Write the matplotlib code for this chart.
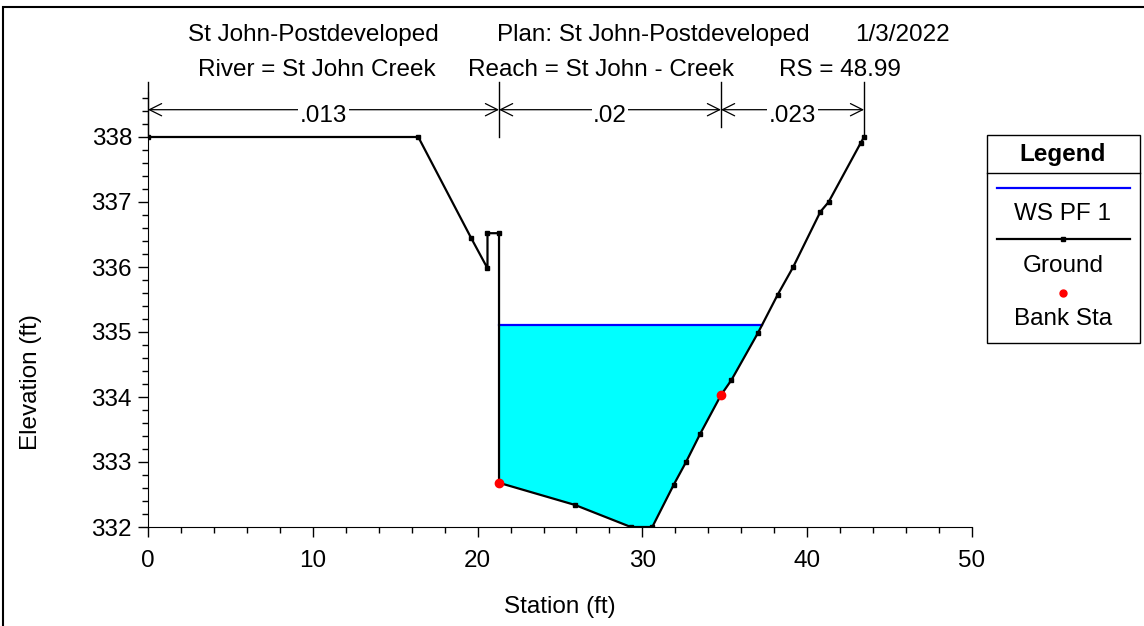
import numpy as np
import matplotlib.pyplot as plt
from matplotlib.ticker import MultipleLocator
from matplotlib.lines import Line2D
from matplotlib.patches import Rectangle

plt.rcParams['font.family'] = ['Liberation Sans', 'DejaVu Sans']

# cross section ground points
station = [0, 16.4, 19.6, 20.6, 20.6, 21.3, 21.3, 25.9, 29.3, 30.6, 31.9, 32.65,
           33.5, 34.77, 35.4, 37.0, 38.2, 39.15, 40.8, 41.3, 43.25, 43.45]
elev = [338.0, 338.0, 336.45, 335.98, 336.52, 336.52, 332.68, 332.34, 332.0, 332.0,
        332.65, 333.0, 333.43, 334.03, 334.26, 334.98, 335.57, 336.0, 336.85, 337.0,
        337.91, 338.0]
bank_sta = [21.3, 34.77]
bank_elev = [332.68, 334.03]
ws_elev = 335.11
# manning's n segments
n_edges = [0, 21.3, 34.77, 43.45]
n_values = ['.013', '.02', '.023']

FS = 17.5
W, H = 1144, 626
fig = plt.figure(figsize=(W / 100, H / 100), dpi=100)

def fx(px):
    return px / W

def fy(py):
    return 1 - py / H

ax = fig.add_axes([fx(148), fy(527), fx(972) - fx(148), fy(91.5) - fy(527)])

st = np.array(station)
el = np.array(elev)

# water area between left bank wall and where ws meets the right bank
ib = 6
right = np.arange(ib, len(st))
j = right[np.argmax(el[right] >= ws_elev)]
x_end = np.interp(ws_elev, [el[j - 1], el[j]], [st[j - 1], st[j]])
poly_x = [st[ib]] + list(st[ib:j]) + [x_end]
poly_y = [ws_elev] + list(el[ib:j]) + [ws_elev]
ax.fill(poly_x, poly_y, color='#00FFFF', lw=0, zorder=1)
ax.plot([st[ib], x_end], [ws_elev, ws_elev], color='#0000FF', lw=1.6, zorder=2)

ax.plot(st, el, color='black', lw=1.6, marker='s', ms=3.2, zorder=3)
ax.plot(bank_sta, bank_elev, 'o', color='red', ms=6, zorder=4)

ax.set_xlim(0, 50)
ax.set_ylim(332, 338.7)
ax.xaxis.set_major_locator(MultipleLocator(10))
ax.xaxis.set_minor_locator(MultipleLocator(2))
ax.set_yticks(np.arange(332, 339, 1))
ax.yaxis.set_minor_locator(MultipleLocator(0.2))
ax.tick_params(which='major', length=7.5, width=1, labelsize=FS, direction='out', pad=4)
ax.tick_params(axis='x', which='major', pad=9)
ax.tick_params(which='minor', length=4.5, width=1, direction='out')
ax.spines['top'].set_visible(False)
ax.spines['right'].set_visible(False)
ax.set_xlabel('Station (ft)', fontsize=FS)
ax.set_ylabel('Elevation (ft)', fontsize=FS)
ax.xaxis.set_label_coords((560 - 148) / 824, -(607 - 527) / 435.5)
ax.yaxis.set_label_coords(-(148 - 31) / 824, (527 - 382) / 435.5)
ax.xaxis.label.set_va('center')
ax.yaxis.label.set_va('center')

# manning's n bracket above the section
ya = 338.42
for xe in n_edges:
    ax.plot([xe, xe], [338.0 if xe in (0, 21.3, 43.45) else 338.15, 338.85],
            color='black', lw=1, clip_on=False)
for i, lab in enumerate(n_values):
    x0, x1 = n_edges[i], n_edges[i + 1]
    ax.annotate('', xy=(x0, ya), xytext=(x1, ya),
                arrowprops=dict(arrowstyle='<->', lw=0.9, color='black',
                                shrinkA=0, shrinkB=0, mutation_scale=22),
                annotation_clip=False)
    ax.text((x0 + x1) / 2, ya - 0.1, lab, fontsize=FS, ha='center', va='center',
            bbox=dict(facecolor='white', edgecolor='none', pad=1), clip_on=False)

# title lines
for txt, px, py in [('St John-Postdeveloped', 188, 35),
                    ('Plan: St John-Postdeveloped', 497, 35),
                    ('1/3/2022', 855, 35),
                    ('River = St John Creek', 198, 70),
                    ('Reach = St John - Creek', 468, 70),
                    ('RS = 48.99', 779, 70)]:
    fig.text(fx(px), fy(py), txt, fontsize=FS, ha='left', va='center')

# legend box
fig.add_artist(Rectangle((fx(987), fy(343)), fx(1140) - fx(987), fy(135) - fy(343),
                         transform=fig.transFigure, fill=False, ec='black', lw=1))
fig.add_artist(Line2D([fx(987), fx(1140)], [fy(173), fy(173)], color='black', lw=1))
fig.text(fx(1063), fy(155), 'Legend', fontsize=FS, fontweight='bold', ha='center', va='center')
fig.add_artist(Line2D([fx(997), fx(1130)], [fy(188), fy(188)], color='#0000FF', lw=1.6))
fig.text(fx(1063), fy(214), 'WS PF 1', fontsize=FS, ha='center', va='center')
fig.add_artist(Line2D([fx(997), fx(1130)], [fy(239), fy(239)], color='black', lw=1.6))
fig.add_artist(Line2D([fx(1063)], [fy(239)], color='black', marker='s', ms=3.2, lw=0))
fig.text(fx(1063), fy(266), 'Ground', fontsize=FS, ha='center', va='center')
fig.add_artist(Line2D([fx(1063)], [fy(293)], color='red', marker='o', ms=5, lw=0))
fig.text(fx(1063), fy(319), 'Bank Sta', fontsize=FS, ha='center', va='center')

# outer frame
fig.add_artist(Rectangle((fx(3), fy(700)), fx(1160), fy(7) - fy(700),
                         transform=fig.transFigure, fill=False, ec='black', lw=1.5))

fig.savefig('out.png', dpi=100)
